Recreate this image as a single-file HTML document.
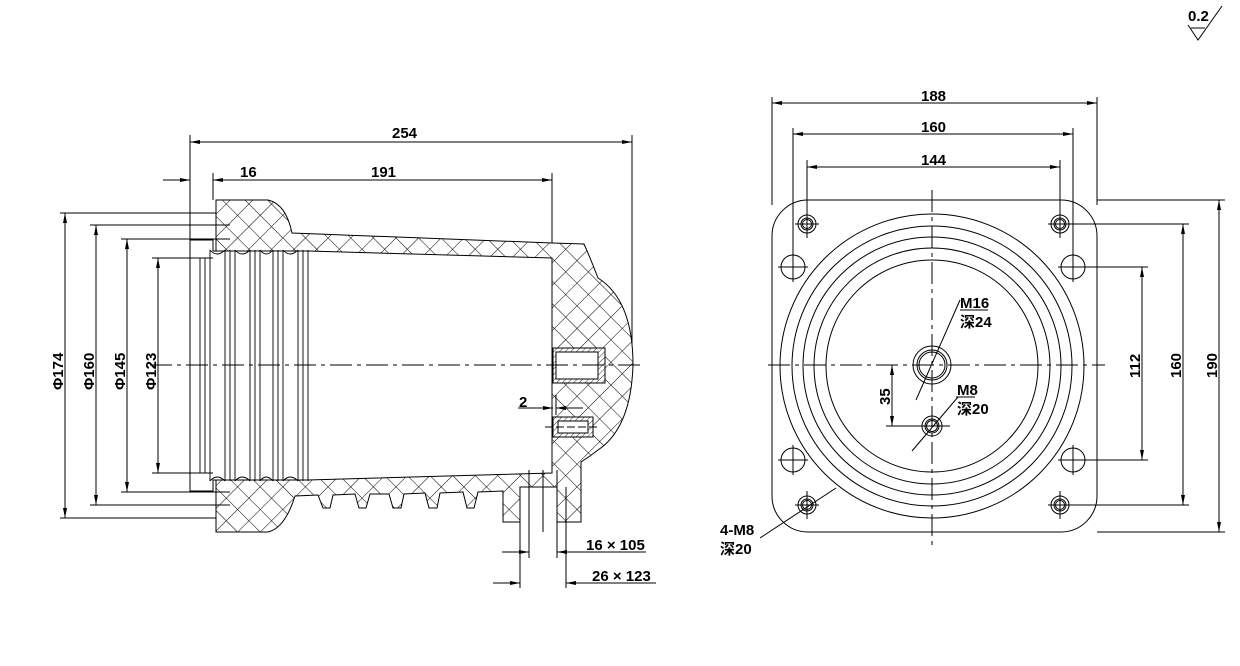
<!DOCTYPE html>
<html><head><meta charset="utf-8"><style>
html,body{margin:0;padding:0;background:#fff}
svg{display:block}
text{font-family:"Liberation Sans Narrow","Liberation Sans","Noto Sans CJK SC",sans-serif;font-weight:bold;font-size:15px;fill:#000}
</style></head><body>
<svg width="1240" height="666" viewBox="0 0 1240 666" xmlns="http://www.w3.org/2000/svg">
<defs>
<pattern id="h" width="16" height="16" patternUnits="userSpaceOnUse" patternTransform="rotate(45)">
<rect width="16" height="16" fill="#fff"/>
<line x1="0" y1="0" x2="0" y2="16" stroke="#000" stroke-width="1"/>
<line x1="0" y1="0" x2="16" y2="0" stroke="#000" stroke-width="1"/>
</pattern>
<pattern id="f" width="4" height="4" patternUnits="userSpaceOnUse" patternTransform="rotate(45)">
<rect width="4" height="4" fill="#fff"/><line x1="0" y1="0" x2="0" y2="4" stroke="#000" stroke-width="0.8"/>
</pattern>
<marker id="a" markerWidth="10" markerHeight="6" refX="10" refY="3" orient="auto-start-reverse" markerUnits="userSpaceOnUse"><path d="M0,1 L10,3 L0,5 Z" fill="#000"/></marker>
</defs>
<g fill="none" stroke="#000" stroke-width="1">
<!-- LEFT VIEW body -->
<path fill="url(#h)" d="M216,200 L268,200 Q286,204 292,233 L552,243 L584,244 Q592,262 598,278 Q633,300 633,365 Q631,428 598,450 L590,456 L581,462 L581,522 L557,522 L557,487 L520,487 L520,522 L503,522 L503,491 L478,492 L474,508 L467,508 L463,492 L440,493 L437,508 L429,508 L425,493 L404,494 L401,508 L393,508 L389,494 L370,494 L366,508 L359,508 L355,494 L333,495 L330,508 L323,508 L318,495 L295,496 Q285,528 268,532 L216,532 Z"/>
<path fill="#fff" d="M190,240 L213,240 L213,251 L308,251 L552,258 L552,473 L308,480 L213,480 L213,491 L190,491 Z"/>
<g stroke-width="0.9">
<line x1="190" y1="213" x2="216" y2="213"/><line x1="190" y1="518" x2="216" y2="518"/>
<line x1="190" y1="225" x2="230" y2="225"/><line x1="190" y1="505" x2="230" y2="505"/>
<line x1="190" y1="239" x2="230" y2="239"/><line x1="190" y1="492" x2="230" y2="492"/>
<line x1="190" y1="258" x2="213" y2="258"/><line x1="190" y1="473" x2="213" y2="473"/>
<path d="M200,258 V473 M205,258 V473 M210,250 V481 M225,250 V481 M230,250 V481 M235,250 V481 M250,250 V481 M255,250 V481 M260,250 V481 M273,250 V481 M278,250 V481 M283,250 V481 M298,250 V481 M303,250 V481 M308,250 V481"/>
<path d="M210,250 Q217,258 225,250 M235,250 Q242,258 250,250 M260,250 Q266,258 273,250 M283,250 Q290,258 298,250 M210,481 Q217,473 225,481 M235,481 Q242,473 250,481 M260,481 Q266,473 273,481 M283,481 Q290,473 298,481"/>
</g>
<!-- inserts -->
<rect x="553" y="348" width="52" height="35" fill="url(#f)"/>
<rect x="556" y="352" width="42" height="27" fill="#fff"/>
<rect x="553" y="417" width="40" height="20" fill="url(#f)"/>
<rect x="558" y="421" width="30" height="12" fill="#fff"/>
<line x1="545" y1="427" x2="600" y2="427" stroke-dasharray="8,3"/>
<!-- centre line -->
<line x1="150" y1="365" x2="640" y2="365" stroke-dasharray="22,5,4,5"/>
<!-- left dims -->
<line x1="60" y1="213" x2="190" y2="213"/><line x1="60" y1="518" x2="190" y2="518"/>
<line x1="90" y1="225" x2="190" y2="225"/><line x1="90" y1="505" x2="190" y2="505"/>
<line x1="121" y1="239" x2="190" y2="239"/><line x1="121" y1="492" x2="190" y2="492"/>
<line x1="152" y1="258" x2="190" y2="258"/><line x1="152" y1="473" x2="190" y2="473"/>
<line x1="65" y1="213" x2="65" y2="518" marker-start="url(#a)" marker-end="url(#a)"/>
<line x1="96" y1="225" x2="96" y2="505" marker-start="url(#a)" marker-end="url(#a)"/>
<line x1="127" y1="239" x2="127" y2="492" marker-start="url(#a)" marker-end="url(#a)"/>
<line x1="158" y1="258" x2="158" y2="473" marker-start="url(#a)" marker-end="url(#a)"/>
<!-- top dims -->
<line x1="190" y1="135" x2="190" y2="240"/><line x1="632" y1="135" x2="632" y2="345"/>
<line x1="213" y1="173" x2="213" y2="200"/><line x1="552" y1="173" x2="552" y2="243"/>
<line x1="190" y1="142" x2="632" y2="142" marker-start="url(#a)" marker-end="url(#a)"/>
<line x1="163" y1="180" x2="190" y2="180" marker-end="url(#a)"/>
<line x1="213" y1="180" x2="552" y2="180" marker-start="url(#a)" marker-end="url(#a)"/>
<!-- 2 dim -->
<line x1="518" y1="408" x2="553" y2="408" marker-end="url(#a)"/>
<line x1="583" y1="408" x2="556" y2="408" marker-end="url(#a)"/>
<line x1="556" y1="395" x2="556" y2="415"/>
<!-- bottom dims -->
<line x1="520" y1="487" x2="520" y2="588"/><line x1="566" y1="487" x2="566" y2="588"/>
<line x1="529" y1="470" x2="529" y2="558"/><line x1="557" y1="470" x2="557" y2="558"/>
<line x1="543" y1="470" x2="543" y2="532"/>
<line x1="502" y1="552" x2="529" y2="552" marker-end="url(#a)"/>
<line x1="646" y1="552" x2="557" y2="552" marker-end="url(#a)"/>
<line x1="493" y1="583" x2="520" y2="583" marker-end="url(#a)"/>
<line x1="656" y1="583" x2="566" y2="583" marker-end="url(#a)"/>

<!-- RIGHT VIEW -->
<rect x="772" y="200" width="325" height="332" rx="36" ry="36"/>
<circle cx="932" cy="366" r="152"/><circle cx="932" cy="366" r="140"/><circle cx="932" cy="366" r="129"/><circle cx="932" cy="366" r="118"/><circle cx="932" cy="366" r="106"/>
<g>
<circle cx="807" cy="224" r="9"/><circle cx="807" cy="224" r="6"/><circle cx="807" cy="224" r="4.5"/>
<circle cx="1060" cy="224" r="9"/><circle cx="1060" cy="224" r="6"/><circle cx="1060" cy="224" r="4.5"/>
<circle cx="807" cy="505" r="9"/><circle cx="807" cy="505" r="6"/><circle cx="807" cy="505" r="4.5"/>
<circle cx="1060" cy="505" r="9"/><circle cx="1060" cy="505" r="6"/><circle cx="1060" cy="505" r="4.5"/>
<circle cx="793" cy="267" r="12"/><circle cx="1073" cy="267" r="12"/><circle cx="793" cy="460" r="12"/><circle cx="1073" cy="460" r="12"/>
<circle cx="932" cy="365" r="19"/><circle cx="932" cy="365" r="15"/><circle cx="932" cy="365" r="13"/>
<circle cx="932" cy="426" r="10"/><circle cx="932" cy="426" r="7"/><circle cx="932" cy="426" r="5.5"/>
</g>
<line x1="768" y1="365" x2="1105" y2="365" stroke-dasharray="22,5,4,5"/>
<line x1="932" y1="190" x2="932" y2="545" stroke-dasharray="22,5,4,5"/>
<path d="M793,250 V282 M778,267 H808 M1073,250 V282 M1058,267 H1088 M793,445 V475 M778,460 H808 M1073,445 V475 M1058,460 H1088"/>
<path d="M807,210 V238 M795,224 H819 M1060,210 V238 M1048,224 H1072 M807,491 V519 M795,505 H819 M1060,491 V519 M1048,505 H1072"/>
<!-- right dims -->
<line x1="772" y1="97" x2="772" y2="205"/><line x1="1097" y1="97" x2="1097" y2="205"/>
<line x1="793" y1="128" x2="793" y2="255"/><line x1="1073" y1="128" x2="1073" y2="255"/>
<line x1="807" y1="160" x2="807" y2="215"/><line x1="1060" y1="160" x2="1060" y2="215"/>
<line x1="772" y1="103" x2="1097" y2="103" marker-start="url(#a)" marker-end="url(#a)"/>
<line x1="793" y1="134" x2="1073" y2="134" marker-start="url(#a)" marker-end="url(#a)"/>
<line x1="807" y1="167" x2="1060" y2="167" marker-start="url(#a)" marker-end="url(#a)"/>
<line x1="1085" y1="267" x2="1148" y2="267"/><line x1="1085" y1="460" x2="1148" y2="460"/>
<line x1="1068" y1="224" x2="1189" y2="224"/><line x1="1068" y1="505" x2="1189" y2="505"/>
<line x1="1097" y1="200" x2="1225" y2="200"/><line x1="1097" y1="532" x2="1225" y2="532"/>
<line x1="1142" y1="267" x2="1142" y2="460" marker-start="url(#a)" marker-end="url(#a)"/>
<line x1="1183" y1="224" x2="1183" y2="505" marker-start="url(#a)" marker-end="url(#a)"/>
<line x1="1219" y1="200" x2="1219" y2="532" marker-start="url(#a)" marker-end="url(#a)"/>
<!-- 35 -->
<line x1="886" y1="426" x2="950" y2="426"/>
<line x1="892" y1="365" x2="892" y2="426" marker-start="url(#a)" marker-end="url(#a)"/>
<!-- leaders -->
<line x1="916" y1="400" x2="960" y2="300"/>
<line x1="912" y1="451" x2="958" y2="397"/>
<line x1="760" y1="538" x2="836" y2="488"/>
<line x1="960" y1="310" x2="988" y2="310"/><line x1="956" y1="397" x2="975" y2="397"/>
<!-- roughness -->
<path d="M1188,25 L1198,40 L1222,6 M1191,28 H1205" />
</g>
<g font-size="15">
<text x="392" y="138">254</text>
<text x="240" y="177">16</text>
<text x="371" y="177">191</text>
<text x="519" y="407">2</text>
<text x="586" y="550">16 × 105</text>
<text x="592" y="581">26 × 123</text>
<text transform="translate(63,390) rotate(-90)">Φ174</text>
<text transform="translate(94,390) rotate(-90)">Φ160</text>
<text transform="translate(125,390) rotate(-90)">Φ145</text>
<text transform="translate(156,390) rotate(-90)">Φ123</text>
<text x="921" y="101">188</text>
<text x="921" y="132">160</text>
<text x="921" y="165">144</text>
<text transform="translate(1140,378) rotate(-90)">112</text>
<text transform="translate(1181,378) rotate(-90)">160</text>
<text transform="translate(1217,378) rotate(-90)">190</text>
<text transform="translate(890,405) rotate(-90)">35</text>
<text x="960" y="308">M16</text>
<text x="960" y="327">深24</text>
<text x="957" y="395">M8</text>
<text x="957" y="414">深20</text>
<text x="720" y="535">4-M8</text>
<text x="720" y="554">深20</text>
<text x="1188" y="21" font-size="12">0.2</text>
</g>
</svg>
</body></html>
